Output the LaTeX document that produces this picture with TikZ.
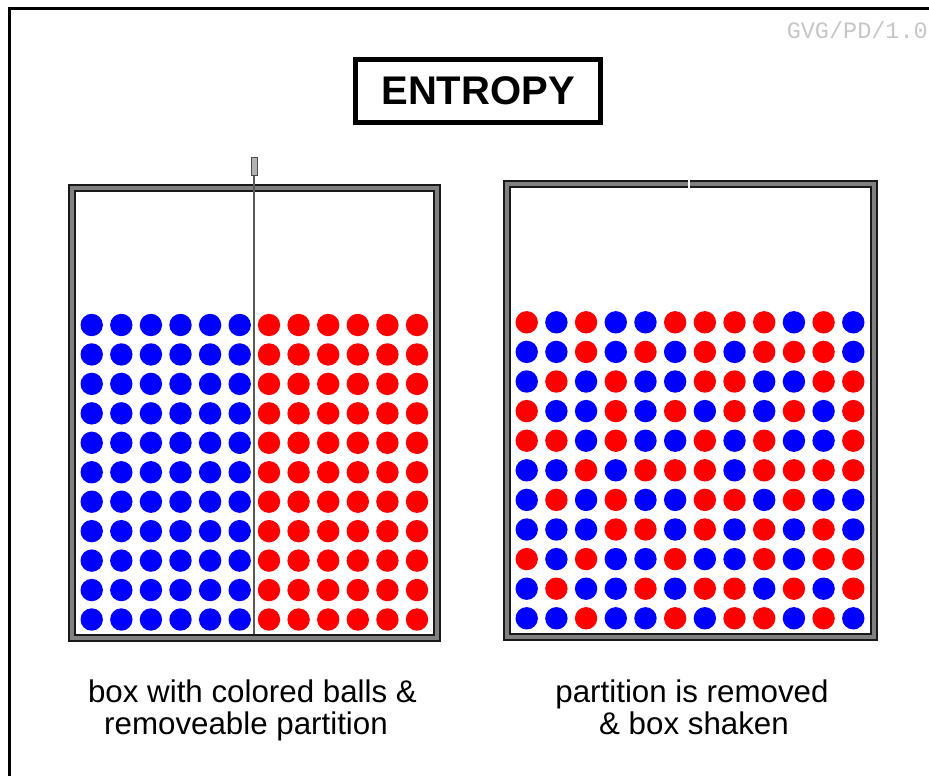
\documentclass[tikz,border=0pt]{standalone}
\usepackage{fontspec}
\setmainfont{Liberation Sans}
\setmonofont{Liberation Mono}
\definecolor{ballR}{RGB}{255,0,0}
\definecolor{ballB}{RGB}{0,0,255}
\begin{document}
\begin{tikzpicture}[x=1pt,y=-1pt,
  boxwall/.style={draw=black!90,line width=2pt,double=gray,double distance=4pt},
  caption/.style={font=\fontsize{31.3}{34}\selectfont,anchor=base,inner sep=0pt},
  ball/.style={radius=11.2}]
\useasboundingbox (0,0) rectangle (929,776);
% outer frame (left and top only visible)
\draw[line width=2.5pt] (9.5,780) -- (9.5,8.5) -- (935,8.5);
% mark
\node[font=\ttfamily\fontsize{23.5}{26}\selectfont,text=gray!45,anchor=east,inner sep=0pt] (mark) at (928,30) {GVG/PD/1.0};
% title
\node[draw,line width=5pt,minimum width=245pt,minimum height=63pt,inner sep=0pt,
      font=\bfseries\fontsize{40}{44}\selectfont] (title) at (478,91) {ENTROPY};
% left box
\draw[boxwall] (71.5,187.5) rectangle (437,638);
% right box
\draw[boxwall] (507,184) rectangle (874,637);
\draw[white,line width=2.2pt] (689,177) -- (689,194);
% left balls
\foreach \i in {0,...,10}{
  \foreach \j in {0,...,5}{
    \fill[ballB] (91.7+29.6*\j,325+29.45*\i) circle[ball];
    \fill[ballR] (269+29.6*\j,325+29.45*\i) circle[ball];
  }
}
% partition
\draw[gray!70!black,line width=1.6pt] (254,174) -- (254,634);
\draw[gray!60!black,fill=gray!60,line width=0.8pt] (251,157) rectangle (257,175);
% right balls
\foreach \row [count=\i from 0] in {
 {R,B,R,B,B,R,R,R,R,B,R,B},
 {B,B,R,B,R,B,R,B,R,R,R,B},
 {B,R,B,R,B,B,R,R,B,B,R,R},
 {R,B,B,R,B,R,B,R,B,R,B,R},
 {R,R,B,R,B,B,R,B,R,B,B,R},
 {B,B,R,B,R,R,R,B,R,R,R,R},
 {B,R,B,R,B,B,R,R,B,R,B,B},
 {B,B,B,R,R,B,R,B,R,B,R,B},
 {R,B,R,B,B,R,B,B,R,B,R,R},
 {B,R,B,B,R,B,R,R,B,R,B,R},
 {B,B,R,B,B,R,B,R,R,B,R,B}}{
  \foreach \c [count=\j from 0] in \row {
    \fill[ball\c] (526.7+29.69*\j,322.3+29.6*\i) circle[ball];
  }
}
% captions
\node[caption] (capL1) at (252.5,702) {box with colored balls \&};
\node[caption] (capL2) at (246,734) {removeable partition};
\node[caption] (capR1) at (692,702) {partition is removed};
\node[caption] (capR2) at (694,734) {\& box shaken};
\end{tikzpicture}
\end{document}
